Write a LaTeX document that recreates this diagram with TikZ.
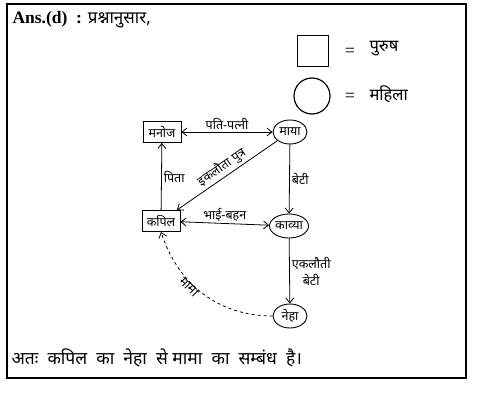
\documentclass[tikz,border=0pt]{standalone}
\usepackage{fontspec}
\setmainfont{Liberation Serif}
\newfontfamily\dev[Script=Devanagari]{Noto Sans}
\usetikzlibrary{arrows.meta,shapes.geometric}

\begin{document}
\begin{tikzpicture}[
  x=1pt, y=-1pt,
  male/.style={
    draw, line width=0.9pt, rectangle,
    minimum width=38pt, minimum height=21pt,
    font=\dev\fontsize{12.5}{14}\selectfont, inner sep=1pt
  },
  female/.style={
    draw, line width=0.9pt, ellipse,
    minimum width=34pt, minimum height=24pt,
    font=\dev\fontsize{12.5}{14}\selectfont, inner sep=0pt
  },
  arr/.style={-{Straight Barb[length=5pt,width=8pt]}, line width=0.8pt},
  both/.style={{Straight Barb[length=5pt,width=8pt]}-{Straight Barb[length=5pt,width=8pt]}},
  lbl/.style={font=\dev\fontsize{12.5}{17}\selectfont, inner sep=2pt, align=center},
]
\useasboundingbox (0,0) rectangle (498,404);
\draw[line width=1.2pt] (7,4) rectangle (466,378);

% heading
\node[anchor=west, font=\fontsize{17.5}{20}\selectfont] (head) at (9,20)
  {\textbf{Ans.(d)\ \ :} {\dev\fontsize{17}{20}\selectfont प्रश्नानुसार,}};

% legend
\node[draw, line width=1.2pt, minimum size=31pt] (keym) at (313,51) {};
\node[draw, circle, line width=1.2pt, minimum size=36pt] (keyf) at (312,96) {};
\node[font=\fontsize{18}{20}\selectfont] (eqm) at (350,52) {=};
\node[font=\fontsize{18}{20}\selectfont] (eqf) at (350,97) {=};
\node[anchor=west, font=\dev\fontsize{16.5}{19}\selectfont] (txm) at (366,49) {पुरुष};
\node[anchor=west, font=\dev\fontsize{16.5}{19}\selectfont] (txf) at (366,94) {महिला};

% family
\node[male]   (manoj) at (162,132) {मनोज};
\node[female] (maya)  at (290,132) {माया};
\node[male]   (kapil) at (161,221) {कपिल};
\node[female] (kavya) at (289,226) {काव्या};
\node[female] (neha)  at (290,316) {नेहा};

\draw[arr, both] (manoj) -- node[lbl, above] {पति-पत्नी} (maya);
\draw[arr] (kapil) -- node[lbl, right] {पिता} (manoj);
\draw[arr] (maya) -- node[lbl, sloped, above] {इकलौता पुत्र} (kapil);
\draw[arr] (maya) -- node[lbl, right] {बेटी} (kavya);
\draw[arr, both] (kapil) -- node[lbl, above] {भाई-बहन} (kavya);
\draw[arr] (kavya) -- node[lbl, right] {एकलौती\\बेटी} (neha);
\draw[arr, dashed] (neha.west) to[out=180, in=-72]
  node[lbl, pos=0.6, sloped, below, inner sep=0pt] {मामा} (kapil.south);

% conclusion
\node[anchor=west, font=\dev\fontsize{17.5}{20}\selectfont] (ans) at (8,358)
  {अतः\ \ कपिल\ \ का\ \ नेहा\ \ से\ मामा\ \ का\ \ सम्बंध\ \ है।};
\end{tikzpicture}
\end{document}
